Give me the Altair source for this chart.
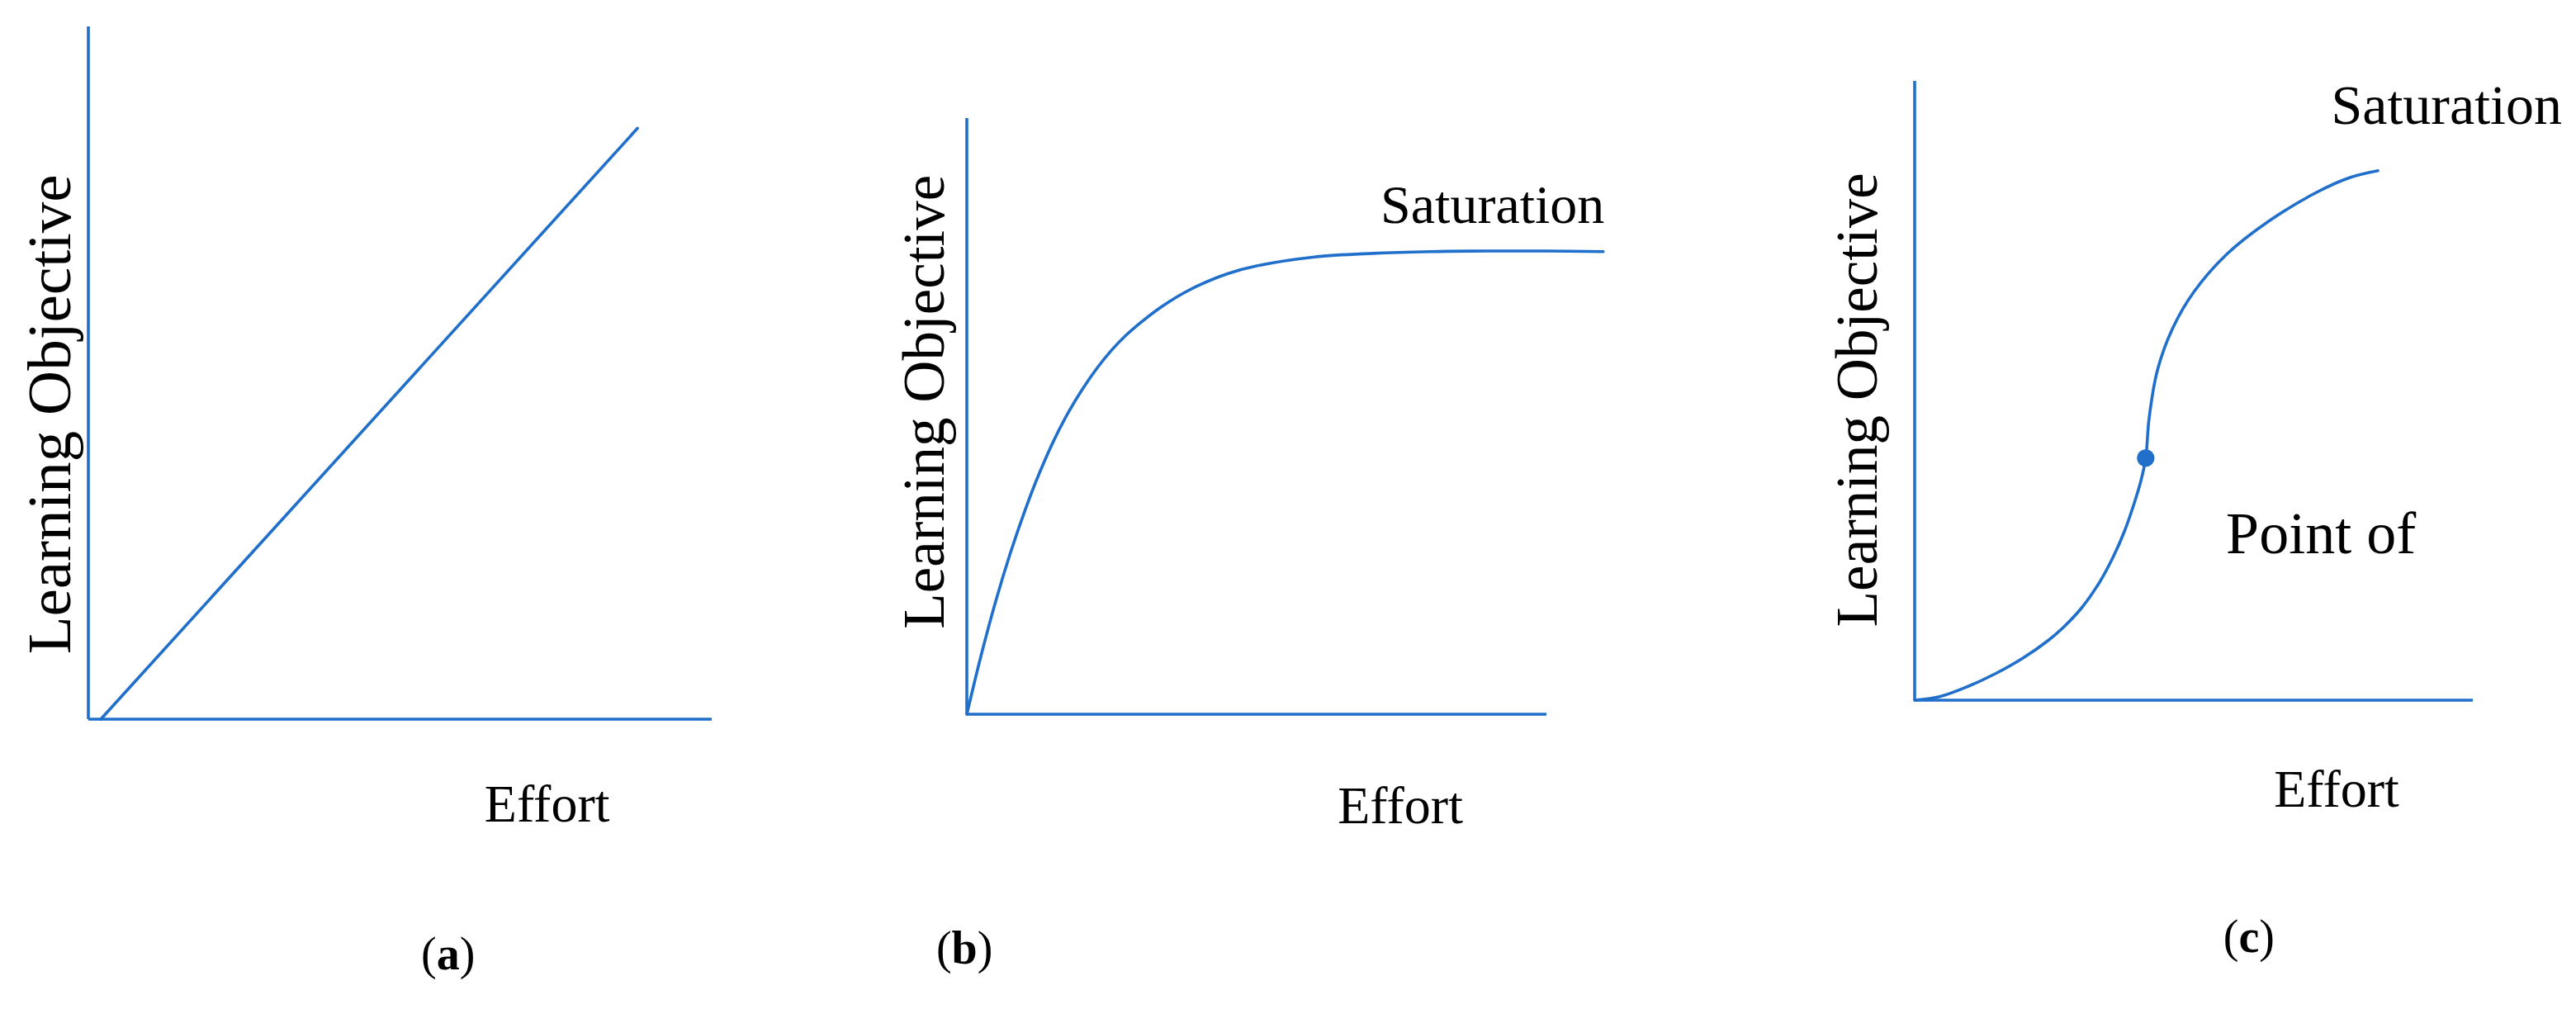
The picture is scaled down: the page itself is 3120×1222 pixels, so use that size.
import altair as alt
import pandas as pd

BLUE = "#1F6FCB"
FONT = "Liberation Serif"
INK = "#000000"

# ---------------- data ----------------
axis_x_end = [10, 10, 10]      # length of the Effort axis (units) in panels a, b, c
axis_y_end = [10, 10, 10]      # length of the Learning Objective axis (units)

# (a) linear
a_effort = [0.2, 8.81]
a_learning = [0.0, 8.53]

# (b) saturating curve
b_effort = [0.0, 0.25, 0.5, 0.75, 1.0, 1.25, 1.5, 1.75, 2.0, 2.25, 2.5, 2.75, 3.0,
            3.25, 3.5, 3.75, 4.0, 4.5, 5.0, 6.0, 7.0, 8.0, 9.0, 10.0, 10.98]
b_learning = [0.0, 1.00, 1.90, 2.70, 3.41, 4.04, 4.59, 5.06, 5.46, 5.81, 6.11, 6.36, 6.57,
              6.76, 6.925, 7.07, 7.195, 7.39, 7.52, 7.67, 7.73, 7.76, 7.77, 7.77, 7.76]

# (c) S-curve with inflection point
c_effort = [0.0, 0.46, 0.95, 1.45, 1.94, 2.40, 2.68, 3.00, 3.31, 3.56, 3.76, 3.93, 4.05, 4.14,
            4.20, 4.35, 4.62, 5.00, 5.59, 6.32, 7.20, 7.80, 8.30]
c_learning = [0.0, 0.06, 0.22, 0.43, 0.68, 0.97, 1.19, 1.50, 1.90, 2.32, 2.73, 3.17, 3.53, 3.91,
              4.55, 5.33, 6.00, 6.59, 7.20, 7.72, 8.20, 8.44, 8.55]
c_point_effort = [4.14]
c_point_learning = [3.91]

# annotation anchors (effort, learning)
lo_pos = [(-0.29, 4.40), (-0.40, 5.24), (-0.68, 4.85)]
effort_pos = [(7.36, -1.48), (7.48, -1.83), (7.56, -1.72)]
label_pos = [(5.77, -3.41), (-0.04, -3.95), (5.99, -3.84)]
label_letters = ["a", "b", "c"]
saturation_pos = {1: (9.07, 8.24), 2: (9.53, 9.31)}
point_of_pos = (7.28, 2.67)

# ---------------- layout (page pixels) ----------------
TOP = 8
H = 1206
LAYOUT = [
    dict(left=8, width=1032, origin=(107, 871), xend=862, ytop=32, lo_fs=75, sat_fs=66),
    dict(left=1040, width=1090, origin=(1171, 865), xend=1873, ytop=143, lo_fs=71, sat_fs=66),
    dict(left=2130, width=982, origin=(2319, 848), xend=2995, ytop=98, lo_fs=71, sat_fs=68),
]
LETTER_W = {"a": 0.5, "b": 0.556, "c": 0.444}
LABEL_FS = 56
STROKE = 3.6


def panel(i, curve_e, curve_l, interp):
    L = LAYOUT[i]
    ox, oy = L["origin"]
    ux = (L["xend"] - ox) / axis_x_end[i]
    uy = (oy - L["ytop"]) / axis_y_end[i]
    xdom = [(L["left"] - ox) / ux, (L["left"] + L["width"] - ox) / ux]
    ydom = [(oy - (TOP + H)) / uy, (oy - TOP) / uy]
    xs = alt.Scale(domain=xdom, nice=False, zero=False)
    ys = alt.Scale(domain=ydom, nice=False, zero=False)
    X = lambda f: alt.X(f, type="quantitative", scale=xs, axis=None)
    Y = lambda f: alt.Y(f, type="quantitative", scale=ys, axis=None)

    axes_df = pd.DataFrame({
        "e": [0, 0], "e2": [axis_x_end[i], 0],
        "l": [0, 0], "l2": [0, axis_y_end[i]],
    })
    axes = alt.Chart(axes_df).mark_rule(color=BLUE, strokeWidth=STROKE).encode(
        x=X("e"), x2="e2", y=Y("l"), y2="l2")

    curve_df = pd.DataFrame({"e": curve_e, "l": curve_l})
    curve = alt.Chart(curve_df).mark_line(
        color=BLUE, strokeWidth=STROKE, interpolate=interp, strokeCap="round").encode(
        x=X("e"), y=Y("l"), order="e:Q")

    lo_df = pd.DataFrame({"e": [lo_pos[i][0]], "l": [lo_pos[i][1]], "t": ["Learning Objective"]})
    lo = alt.Chart(lo_df).mark_text(
        angle=270, font=FONT, fontSize=L["lo_fs"], align="center",
        baseline="alphabetic", color=INK).encode(x=X("e"), y=Y("l"), text="t:N")

    ef_df = pd.DataFrame({"e": [effort_pos[i][0]], "l": [effort_pos[i][1]], "t": ["Effort"]})
    ef = alt.Chart(ef_df).mark_text(
        font=FONT, fontSize=64, align="center", baseline="alphabetic",
        color=INK).encode(x=X("e"), y=Y("l"), text="t:N")

    letter = label_letters[i]
    lw = LETTER_W[letter] * LABEL_FS
    lab_df = pd.DataFrame({"e": [label_pos[i][0]], "l": [label_pos[i][1]],
                           "o": ["("], "m": [letter], "c": [")"]})
    lab_base = alt.Chart(lab_df).encode(x=X("e"), y=Y("l"))
    lab = (
        lab_base.mark_text(font=FONT, fontSize=LABEL_FS, align="right",
                           baseline="middle", dx=-lw / 2, color=INK).encode(text="o:N")
        + lab_base.mark_text(font=FONT, fontSize=LABEL_FS, fontWeight="bold",
                             align="center", baseline="middle", color=INK).encode(text="m:N")
        + lab_base.mark_text(font=FONT, fontSize=LABEL_FS, align="left",
                             baseline="middle", dx=lw / 2, color=INK).encode(text="c:N")
    )

    layers = [axes, curve, lo, ef, lab]

    if i in saturation_pos:
        s_df = pd.DataFrame({"e": [saturation_pos[i][0]], "l": [saturation_pos[i][1]],
                             "t": ["Saturation"]})
        layers.append(alt.Chart(s_df).mark_text(
            font=FONT, fontSize=L["sat_fs"], align="center", baseline="alphabetic",
            color=INK).encode(x=X("e"), y=Y("l"), text="t:N"))

    if i == 2:
        p_df = pd.DataFrame({"e": c_point_effort, "l": c_point_learning})
        layers.append(alt.Chart(p_df).mark_circle(
            color=BLUE, size=450, opacity=1).encode(x=X("e"), y=Y("l")))
        po_df = pd.DataFrame({"e": [point_of_pos[0]], "l": [point_of_pos[1]], "t": ["Point of"]})
        layers.append(alt.Chart(po_df).mark_text(
            font=FONT, fontSize=72, align="center", baseline="middle",
            color=INK).encode(x=X("e"), y=Y("l"), text="t:N"))

    return alt.layer(*layers).properties(width=L["width"], height=H)


pa = panel(0, a_effort, a_learning, "linear")
pb = panel(1, b_effort, b_learning, "catmull-rom")
pc = panel(2, c_effort, c_learning, "catmull-rom")

chart = (
    alt.hconcat(pa, pb, pc, spacing=0)
    .properties(padding=0, background="white")
    .configure_view(strokeWidth=0)
)

chart.save("out.html", embed_options={"renderer": "svg", "actions": False})
